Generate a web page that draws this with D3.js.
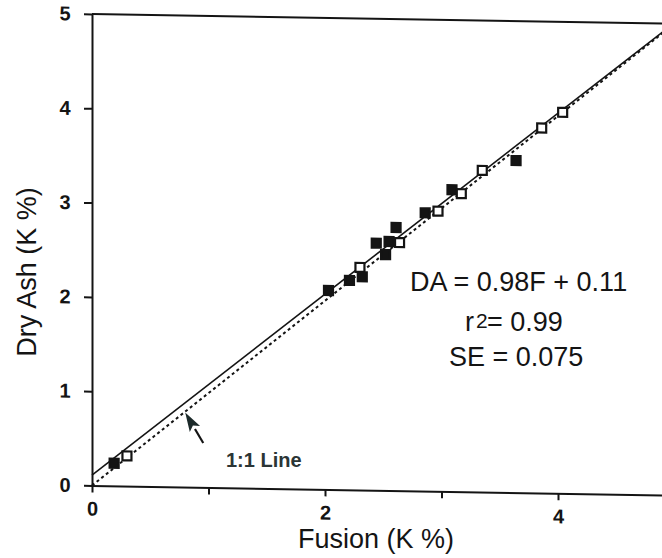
<!DOCTYPE html>
<html>
<head>
<meta charset="utf-8">
<script src="https://cdn.jsdelivr.net/npm/d3@7"></script>
<style>
  html, body { margin: 0; padding: 0; background: #fff; }
  svg { display: block; font-family: "Liberation Sans", Arial, Helvetica, sans-serif; }
</style>
</head>
<body>
<div id="main"></div>
<script>
// K % by fusion (x) vs dry ash (y)
const fusion = [0.19, 0.30, 2.03, 2.21, 2.30, 2.32, 2.44, 2.52, 2.55, 2.61, 2.64, 2.86, 2.97, 3.09, 3.17, 3.35, 3.64, 3.86, 4.04];
const dryAsh = [0.24, 0.32, 2.11, 2.22, 2.36, 2.26, 2.62, 2.50, 2.64, 2.79, 2.63, 2.95, 2.97, 3.20, 3.16, 3.41, 3.52, 3.87, 4.04];
const sampleGroup = ['A', 'B', 'A', 'A', 'B', 'A', 'A', 'A', 'A', 'A', 'B', 'A', 'B', 'A', 'B', 'B', 'A', 'B', 'B'];

const xTicks = [0, 1, 2, 3, 4, 5];
const xTickLabels = [0, 2, 4];
const yTicks = [0, 1, 2, 3, 4, 5];

const fitSlope = 0.98, fitIntercept = 0.11;
const statLines = ['DA = 0.98F + 0.11', '= 0.99', 'SE = 0.075'];

const points = fusion.map((f, i) => ({ f: f, da: dryAsh[i], g: sampleGroup[i] }));

const W = 662, H = 558;
const ink = '#141414';

let svg = d3.select('div#main')
  .append('svg')
  .attr('width', W)
  .attr('height', H);

const x = d3.scaleLinear().domain([0, 5]).range([92, 674.5]);
const y = d3.scaleLinear().domain([0, 5]).range([485.5, 14]);
const markFill = d3.scaleOrdinal().domain(['A', 'B']).range([ink, '#fff']);

// the scan is slightly sheared, so the plot is too
const skew = 0.95, k = Math.tan(skew * Math.PI / 180);
let plot = svg.append('g')
  .attr('transform', `translate(0,${-x(0) * k}) skewY(${skew})`);

// left axis
let yAxis = plot.append('g')
  .attr('transform', `translate(${x(0)},0)`)
  .call(d3.axisLeft(y).tickValues(yTicks).tickSize(8).tickSizeOuter(0).tickPadding(13).tickFormat(d3.format('d')));

// bottom axis
let xAxis = plot.append('g')
  .attr('transform', `translate(0,${y(0)})`)
  .call(d3.axisBottom(x).tickValues(xTicks).tickSize(7).tickSizeOuter(0).tickPadding(9)
    .tickFormat(d => xTickLabels.includes(d) ? d : ''));

[yAxis, xAxis].forEach(a => {
  a.attr('font-size', 20).attr('font-family', null);
  a.select('.domain').attr('stroke', ink).attr('stroke-width', 2);
  a.selectAll('.tick line').attr('stroke', ink).attr('stroke-width', 2);
  a.selectAll('.tick text')
    .attr('fill', ink)
    .attr('font-size', 20)
    .attr('font-weight', 'bold');
});
yAxis.selectAll('.tick text').attr('text-anchor', 'middle').attr('dx', '-6');

// top frame line
plot.append('line')
  .attr('x1', x(0)).attr('y1', y(5))
  .attr('x2', x(5)).attr('y2', y(5))
  .attr('stroke', ink)
  .attr('stroke-width', 2);

// regression line and 1:1 line
const line = d3.line().x(d => x(d[0])).y(d => y(d[1]));

plot.append('path')
  .datum([[0, fitIntercept], [5, fitSlope * 5 + fitIntercept]])
  .attr('d', line)
  .attr('fill', 'none')
  .attr('stroke', ink)
  .attr('stroke-width', 1.6);

plot.append('path')
  .datum([[0, 0], [5, 5]])
  .attr('d', line)
  .attr('fill', 'none')
  .attr('stroke', ink)
  .attr('stroke-width', 2)
  .attr('stroke-dasharray', '3,3');

// points
const s = 9;
plot.selectAll('rect.pt')
  .data(points)
  .enter()
  .append('rect')
    .attr('class', 'pt')
    .attr('x', d => x(d.f) - s / 2)
    .attr('y', d => y(d.da) - s / 2)
    .attr('width', s)
    .attr('height', s)
    .attr('fill', d => markFill(d.g))
    .attr('stroke', ink)
    .attr('stroke-width', 2.2);

// arrow pointing at the 1:1 line
const tip = [x(0.80), y(0.79)], tail = [x(0.955), y(0.47)];
const dx = tip[0] - tail[0], dy = tip[1] - tail[1], len = Math.hypot(dx, dy);
const ux = dx / len, uy = dy / len, hl = 19, hw = 6;
const base = [tip[0] - ux * hl, tip[1] - uy * hl];
plot.append('line')
  .attr('x1', tail[0]).attr('y1', tail[1])
  .attr('x2', base[0]).attr('y2', base[1])
  .attr('stroke', ink)
  .attr('stroke-width', 2.2);
plot.append('path')
  .attr('d', `M${tip[0]},${tip[1]} L${base[0] - uy * hw},${base[1] + ux * hw} L${base[0] + ux * 4},${base[1] + uy * 4} L${base[0] + uy * hw},${base[1] - ux * hw} Z`)
  .attr('fill', '#1c2a2a');

svg.append('text')
  .text('1:1 Line')
  .attr('x', 226)
  .attr('y', 467)
  .attr('fill', '#2b3535')
  .attr('font-size', 20)
  .attr('font-weight', 'bold');

// stats text
svg.append('text')
  .text(statLines[0])
  .attr('x', 410).attr('y', 291)
  .attr('fill', ink)
  .attr('font-size', 27);

svg.append('text').text('r')
  .attr('x', 465).attr('y', 331)
  .attr('fill', ink)
  .attr('font-size', 27);
svg.append('text').text('2')
  .attr('x', 476).attr('y', 328)
  .attr('fill', ink)
  .attr('font-size', 21);
svg.append('text').text(statLines[1])
  .attr('x', 487).attr('y', 331)
  .attr('fill', ink)
  .attr('font-size', 27);

svg.append('text')
  .text(statLines[2])
  .attr('x', 449).attr('y', 366)
  .attr('fill', ink)
  .attr('font-size', 27);

// axis titles
svg.append('text')
  .text('Fusion (K %)')
  .attr('x', 376).attr('y', 548)
  .attr('text-anchor', 'middle')
  .attr('fill', ink)
  .attr('font-size', 27);

svg.append('text')
  .text('Dry Ash (K %)')
  .attr('transform', 'translate(36,272) rotate(-90)')
  .attr('text-anchor', 'middle')
  .attr('fill', ink)
  .attr('font-size', 27);
</script>
</body>
</html>
